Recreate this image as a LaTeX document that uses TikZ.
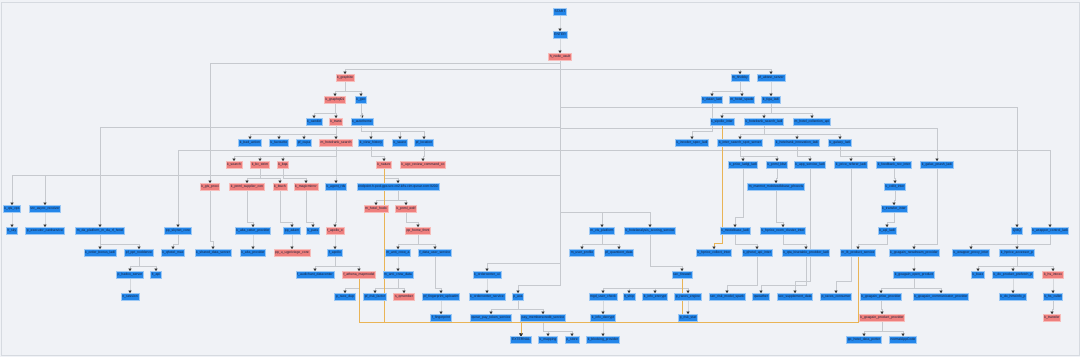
\documentclass[tikz,border=0pt]{standalone}
\usepackage{fontspec}
\setmainfont{Liberation Sans}
\usetikzlibrary{arrows.meta}
\definecolor{canvas}{HTML}{F0F2F6}
\definecolor{frame}{HTML}{D6DAE0}
\definecolor{okfill}{HTML}{2386EA}
\definecolor{okline}{HTML}{9CC8F4}
\definecolor{errfill}{HTML}{EF7F7D}
\definecolor{errline}{HTML}{F7BDBB}
\definecolor{wire}{HTML}{C6C9CE}
\definecolor{extwire}{HTML}{E9B456}
\definecolor{ink}{HTML}{14203A}
\pgfdeclarelayer{bg}
\pgfdeclarelayer{wires}
\pgfsetlayers{bg,wires,main}

\begin{document}
\begin{tikzpicture}[x=1pt, y=-1pt,
        okbox/.style={rectangle, fill=okfill, draw=okline, line width=0.7pt, text=ink, font=\fontsize{3.4}{4}\selectfont, inner xsep=1.2pt, inner ysep=0.8pt, text height=2.6pt, text depth=0.9pt, minimum height=7pt},
        errbox/.style={okbox, fill=errfill, draw=errline},
        dep/.style={draw=wire, line width=0.9pt, -{Triangle[length=2.6pt,width=3.2pt,color=black!80]}, to path={(\tikztostart.south) |- ([yshift=#1]\tikztotarget.north) -- (\tikztotarget.north)}},
        dep/.default=5pt,
        extdep/.style={dep=#1, draw=extwire, line width=0.7pt},
        extdep/.default=5pt
    ]
        % Canvas
        \begin{pgfonlayer}{bg}
        \fill[canvas] (0,0) rectangle (1080,357);
        \draw[frame, line width=0.8pt] (1,2) rectangle (1079,355);
        \end{pgfonlayer}

        % Entry
        \node[okbox] (start) at (560,12) {START};
        \node[okbox] (enter) at (560,35) {ENTER};
        \node[errbox] (vault) at (560,57) {h\_node\_vault};

        % Row 1
        \node[errbox] (graphite) at (345,78) {k\_graphite};
        \node[okbox] (hobby) at (740,78) {m\_hhobby};
        \node[okbox] (abtest) at (771,78) {pf\_abtest\_server};

        % Row 2
        \node[errbox] (graphql) at (335,100) {k\_graphql01};
        \node[okbox] (geo) at (361,100) {k\_geo};
        \node[okbox] (datala) at (712,100) {k\_datan\_ladi};
        \node[okbox] (hspade) at (742,100) {m\_hotel\_spade};
        \node[okbox] (tiga) at (771,100) {k\_tiga\_ladi};

        % Row 3
        \node[okbox] (candid) at (314,122) {k\_candid};
        \node[errbox] (trans) at (336,122) {k\_trans};
        \node[okbox] (autoth) at (362,122) {k\_autotheme};
        \node[okbox] (sipol) at (722,122) {k\_sipolle\_inter};
        \node[okbox] (hrsearch) at (764,122) {k\_hotelrank\_search\_ladi};
        \node[okbox] (hcoll) at (812,122) {m\_hotel\_collection\_api};

        % Row 4
        \node[okbox] (badact) at (250,143) {k\_bad\_action};
        \node[okbox] (favour) at (279,143) {k\_favourite};
        \node[okbox] (oupa) at (304,143) {pf\_oupa};
        \node[errbox] (hrsrch) at (336,143) {m\_hotelrank\_search};
        \node[okbox] (vhist) at (371,143) {k\_view\_history};
        \node[okbox] (sauce) at (400,143) {k\_sauce};
        \node[okbox] (loc) at (424,143) {pf\_location};
        \node[okbox] (incod) at (692,143) {k\_incoder\_spec\_ladi};
        \node[okbox] (spot) at (740,143) {k\_inter\_search\_spot\_server};
        \node[okbox] (innov) at (797,143) {k\_hotelrank\_innovation\_ladi};
        \node[okbox] (galaxy) at (840,143) {k\_galaxy\_ladi};

        % Row 5
        \node[errbox] (search) at (234,165) {k\_search};
        \node[errbox] (bcstr) at (260,165) {k\_bc\_strim};
        \node[errbox] (bqa) at (283,165) {k\_bqa};
        \node[errbox] (nature) at (384,165) {k\_nature};
        \node[errbox] (ugc) at (423,165) {k\_ugc\_review\_command\_co};
        \node[okbox] (pladgi) at (743,165) {k\_price\_ladgi\_ladi};
        \node[okbox] (kbvi) at (777,165) {k\_pnml\_kbvi};
        \node[okbox] (appsrv) at (810,165) {k\_app\_service\_ladi};
        \node[okbox] (prefer) at (851,165) {k\_price\_referer\_ladi};
        \node[okbox] (feedb) at (894,165) {k\_feedback\_rec\_inter};
        \node[okbox] (pnash) at (937,165) {k\_galax\_pnash\_ladi};

        % Row 6
        \node[errbox] (gisproxi) at (210,187) {k\_gis\_proxi};
        \node[errbox] (supcon) at (247,187) {k\_pnml\_supplier\_con};
        \node[errbox] (bwch) at (280,187) {k\_bwch};
        \node[errbox] (magic) at (306,187) {k\_magicmirror};
        \node[okbox] (agent) at (336,187) {k\_agent\_rds};
        \node[okbox] (esnode) at (398,187) {endpoint.h-ped-gps.svc.cn2.k8s.cim.qunar.com:9200};
        \node[okbox] (marmot) at (776,187) {m\_marmot\_mobilesdkbase\_phoevis};
        \node[okbox] (collit) at (895,187) {k\_collit\_inter};

        % Row 7
        \node[okbox] (qiscps) at (12,209) {k\_qis\_cps};
        \node[okbox] (async) at (45,209) {srv\_async\_receiver};
        \node[errbox] (hodo) at (376,209) {m\_hotel\_hodo};
        \node[errbox] (wolf) at (406,209) {k\_pnml\_wolf};
        \node[okbox] (transint) at (894,209) {k\_transfer\_inter};

        % Row 8
        \node[okbox] (sky) at (12,231) {lt\_sky};
        \node[okbox] (executor) at (45,231) {p\_executor\_cardservice};
        \node[okbox] (daplat) at (100,231) {m\_da\_platform\_m\_da\_rf\_hotel};
        \node[okbox] (skynet) at (178,231) {pp\_skynet\_core};
        \node[okbox] (altarat) at (253,231) {k\_alta\_ratter\_provider};
        \node[okbox] (adam) at (292,231) {pp\_adam};
        \node[okbox] (pass) at (313,231) {k\_pass};
        \node[errbox] (apollox) at (335,231) {f\_apollo\_x};
        \node[errbox] (homefront) at (418,231) {pp\_home\_front};
        \node[okbox] (visplat) at (602,231) {m\_vis\_platform};
        \node[okbox] (scoring) at (650,231) {k\_hotelanalysis\_scoring\_service};
        \node[okbox] (modelb) at (735,231) {k\_modelbase\_ladi};
        \node[okbox] (hproom) at (783,231) {k\_hprice\_room\_cluster\_inter};
        \node[okbox] (apiladi) at (887,231) {k\_api\_ladi};
        \node[okbox] (qmq) at (1017,231) {QMQ};
        \node[okbox] (wctrl) at (1050,231) {k\_wrapper\_control\_ladi};

        % Row 9
        \node[okbox] (orderbonus) at (100,253) {k\_order\_bonus\_ladi};
        \node[okbox] (pptnod) at (139,253) {pf\_ppt\_noddence};
        \node[okbox] (qhmax) at (173,253) {k\_qhotel\_max};
        \node[okbox] (sharedds) at (213,253) {k\_shared\_data\_server};
        \node[okbox] (altaprov) at (253,253) {k\_alta\_provider};
        \node[errbox] (ugpriv) at (292,253) {pp\_u\_ugpriviege\_core};
        \node[okbox] (apollo) at (335,253) {f\_apollo};
        \node[okbox] (anticra) at (398,253) {m\_anti\_crew\_a};
        \node[okbox] (datauser) at (435,253) {f\_data\_user\_service};
        \node[okbox] (uprofile) at (582,253) {m\_user\_profile};
        \node[okbox] (quant) at (619,253) {pf\_quantient\_data};
        \node[okbox] (hpcoll) at (714,253) {k\_hprice\_collect\_inter};
        \node[okbox] (qhapi) at (757,253) {k\_qhotel\_api\_inter};
        \node[okbox] (qtabis) at (806,253) {k\_qta\_bisetable\_provider\_ladi};
        \node[okbox] (llt) at (858,253) {m\_llt\_product\_service};
        \node[okbox] (newdream) at (914,253) {k\_goagain\_newdream\_provider};
        \node[okbox] (wproxy) at (971,253) {k\_wrapper\_proxy\_inter};
        \node[okbox] (accessor) at (1017,253) {k\_hprice\_accessor\_p};

        % Row 10
        \node[okbox] (hadoo) at (130,275) {p\_hadoo\_server};
        \node[okbox] (ltapi) at (156,275) {lt\_api};
        \node[okbox] (audich) at (315,275) {f\_audichant\_datacenter};
        \node[errbox] (athena) at (359,275) {f\_athena\_mapmodel};
        \node[okbox] (anticrd) at (398,275) {m\_anti\_crew\_data};
        \node[okbox] (ocui) at (487,275) {k\_ordercenter\_ui};
        \node[okbox] (firewall) at (682,275) {sec\_firewall};
        \node[okbox] (openprod) at (914,275) {k\_goagain\_open\_product};
        \node[okbox] (buzz) at (978,275) {k\_buzz};
        \node[okbox] (prefetch) at (1013,275) {k\_do\_product\_prefetch\_p};
        \node[errbox] (intoxx) at (1053,275) {k\_hs\_intoxx};

        % Row 11
        \node[okbox] (session) at (130,297) {n\_session};
        \node[okbox] (racedup) at (345,297) {p\_race\_dup};
        \node[okbox] (riskf) at (375,297) {pf\_risk\_factor};
        \node[errbox] (qmember) at (404,297) {s\_qmember};
        \node[okbox] (fpup) at (441,297) {pf\_fingerprint\_uploadm};
        \node[okbox] (ocsrv) at (487,297) {k\_ordercenter\_service};
        \node[okbox] (aca) at (518,297) {p\_aca};
        \node[okbox] (mgd) at (603,297) {mgd\_user\_check};
        \node[okbox] (ltship) at (629,297) {lt\_ship};
        \node[okbox] (infoenc) at (655,297) {k\_info\_encrypt};
        \node[okbox] (racesen) at (688,297) {p\_races\_engine};
        \node[okbox] (riskmod) at (727,297) {sec\_risk\_model\_spark};
        \node[okbox] (qweather) at (761,297) {qweather};
        \node[okbox] (supdata) at (795,297) {sec\_supplement\_data};
        \node[okbox] (racescons) at (836,297) {p\_races\_consumer};
        \node[okbox] (gaprice) at (881,297) {k\_goagain\_price\_provider};
        \node[okbox] (gacomm) at (941,297) {k\_goagain\_communicator\_provider};
        \node[okbox] (hmeinfo) at (1013,297) {k\_do\_hmeinfo\_p};
        \node[okbox] (cullet) at (1053,297) {k\_hs\_cullet};

        % Row 12
        \node[okbox] (fprint) at (441,318) {f\_fingerprint};
        \node[okbox] (paytoken) at (491,318) {qunar\_pay\_token\_service};
        \node[okbox] (paymem) at (543,318) {pay\_memberscredit\_service};
        \node[okbox] (infodec) at (603,318) {k\_info\_decrypt};
        \node[okbox] (riskstat) at (688,318) {p\_risk\_stat};
        \node[errbox] (gaprod) at (882,318) {k\_goagain\_product\_provider};
        \node[errbox] (transfer) at (1052,318) {k\_transfer};

        % Row 13
        \node[okbox] (external) at (521,340) {EXTERNAL};
        \node[okbox] (mapping) at (548,340) {k\_mapping};
        \node[okbox] (store) at (572,340) {p\_store};
        \node[okbox] (blocking) at (603,340) {k\_blocking\_provider};
        \node[okbox] (hdporter) at (864,340) {pp\_hotel\_data\_porter};
        \node[okbox] (normalapp) at (903,340) {normalAppCode};

        \begin{pgfonlayer}{wires}
        % Trunk
        \path (start) edge[dep] (enter);
        \path (enter) edge[dep] (vault);
        \path (vault) edge[dep] (graphite) edge[dep] (hobby) edge[dep] (abtest)
            edge[dep=120pt] (gisproxi) edge[dep=30pt] (qiscps) edge[dep=30pt] (async)
            edge[dep=100pt] (daplat) edge[dep=77pt] (skynet) edge[dep=15pt] (visplat)
            edge[dep=15pt] (scoring) edge[dep=33pt] (pnash) edge[dep=120pt] (qmq)
            edge[dep=77pt] (wctrl) edge[dep=8pt] (ocui) edge[dep=8pt] (aca);

        % Left side
        \path (graphite) edge[dep] (graphql) edge[dep] (geo);
        \path (graphql) edge[dep] (candid) edge[dep] (trans);
        \path (geo) edge[dep] (autoth) edge[dep=8pt] (vhist) edge[dep=8pt] (sauce) edge[dep=8pt] (loc);
        \path (trans) edge[dep] (badact) edge[dep] (favour) edge[dep] (oupa) edge[dep] (hrsrch);
        \path (hrsrch) edge[dep] (search) edge[dep] (bcstr) edge[dep] (bqa) edge[dep=8pt] (agent);
        \path (bcstr) edge[dep] (supcon) edge[dep] (bwch);
        \path (bqa) edge[dep] (magic);
        \path (vhist) edge[dep] (nature);
        \path (loc) edge[dep] (ugc);
        \path (nature) edge[dep] (esnode);
        \path (esnode) edge[dep] (hodo) edge[dep] (wolf);
        \path (wolf) edge[dep] (homefront);
        \path (homefront) edge[dep] (anticra) edge[dep] (datauser);
        \path (anticra) edge[dep] (anticrd);
        \path (anticrd) edge[dep] (riskf) edge[dep] (qmember);
        \path (datauser) edge[dep] (fpup);
        \path (fpup) edge[dep] (fprint);
        \path (gisproxi) edge[dep=8pt] (sharedds);
        \path (supcon) edge[dep] (altarat);
        \path (altarat) edge[dep] (altaprov);
        \path (bwch) edge[dep] (adam);
        \path (magic) edge[dep] (pass);
        \path (adam) edge[dep] (ugpriv);
        \path (agent) edge[dep] (apollox);
        \path (apollox) edge[dep] (apollo);
        \path (apollo) edge[dep] (audich) edge[dep] (athena);
        \path (athena) edge[dep] (racedup);
        \path (skynet) edge[dep] (qhmax);
        \path (qiscps) edge[dep] (sky);
        \path (async) edge[dep] (executor);
        \path (daplat) edge[dep] (orderbonus) edge[dep] (pptnod);
        \path (pptnod) edge[dep] (hadoo) edge[dep] (ltapi);
        \path (hadoo) edge[dep] (session);

        % Middle
        \path (ocui) edge[dep] (ocsrv);
        \path (aca) edge[dep] (paytoken) edge[dep] (paymem);
        \path (paymem) edge[dep] (mapping) edge[dep] (store);
        \path (visplat) edge[dep] (uprofile) edge[dep] (quant);
        \path (scoring) edge[dep] (firewall);
        \path (firewall) edge[dep] (mgd) edge[dep] (ltship) edge[dep] (infoenc) edge[dep] (racesen);
        \path (mgd) edge[dep] (infodec);
        \path (infodec) edge[dep] (blocking);
        \path (racesen) edge[dep] (riskstat);

        % Right side
        \path (hobby) edge[dep] (datala) edge[dep] (hspade);
        \path (abtest) edge[dep] (tiga);
        \path (tiga) edge[dep] (sipol) edge[dep] (hrsearch) edge[dep] (hcoll);
        \path (datala) edge[dep=8pt] (incod);
        \path (hrsearch) edge[dep] (spot) edge[dep] (innov) edge[dep] (galaxy);
        \path (spot) edge[dep] (pladgi) edge[dep] (kbvi);
        \path (kbvi) edge[dep] (marmot);
        \path (innov) edge[dep] (appsrv);
        \path (galaxy) edge[dep] (prefer) edge[dep] (feedb);
        \path (feedb) edge[dep] (collit);
        \path (collit) edge[dep] (transint);
        \path (transint) edge[dep] (apiladi);
        \path (apiladi) edge[dep] (llt);
        \path (pladgi) edge[dep=10pt] (modelb);
        \path (marmot) edge[dep] (hproom);
        \path (modelb) edge[dep] (qhapi);
        \path (hproom) edge[dep] (qtabis);
        \path (qhapi) edge[dep=8pt] (riskmod);
        \path (qtabis) edge[dep=8pt] (qweather);
        \path (appsrv) edge[dep=12pt] (supdata);
        \path (prefer) edge[dep=12pt] (racescons);
        \path (pnash) edge[dep] (newdream);
        \path (newdream) edge[dep] (openprod);
        \path (openprod) edge[dep] (gaprice) edge[dep] (gacomm);
        \path (gaprice) edge[dep] (gaprod);
        \path (gaprod) edge[dep] (hdporter) edge[dep] (normalapp);
        \path (qmq) edge[dep] (accessor);
        \path (accessor) edge[dep] (buzz) edge[dep] (prefetch) edge[dep] (intoxx);
        \path (prefetch) edge[dep] (hmeinfo);
        \path (intoxx) edge[dep] (cullet);
        \path (cullet) edge[dep] (transfer);
        \path (wctrl) edge[dep] (wproxy);

        % External calls
        \path (sipol) edge[extdep=6pt] (hpcoll);
        \path (nature) edge[extdep=14pt] (external);
        \path (athena) edge[extdep=14pt] (external);
        \path (firewall) edge[extdep=14pt] (external);
        \path (llt) edge[extdep=14pt] (external);
        \end{pgfonlayer}
    \end{tikzpicture}
\end{document}
